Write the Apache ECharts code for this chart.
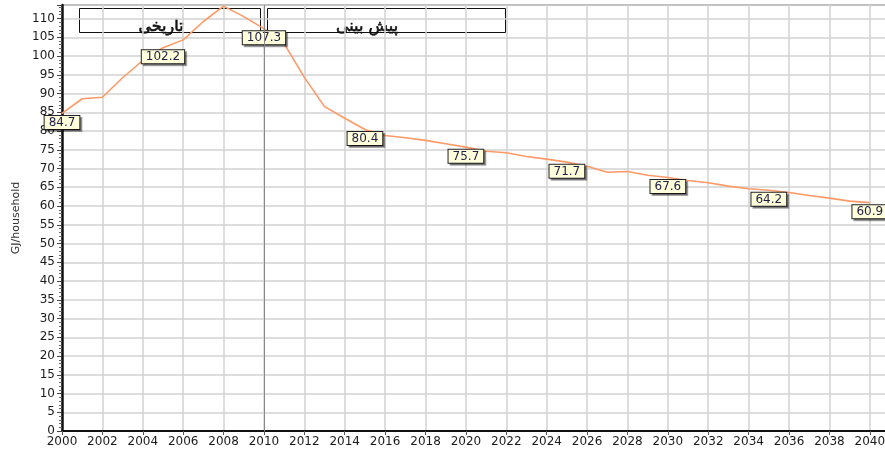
<!DOCTYPE html>
<html>
<head>
<meta charset="utf-8">
<script src="https://cdn.jsdelivr.net/npm/echarts@6/dist/echarts.min.js"></script>
<style>
  html, body { margin: 0; padding: 0; background: #fff; }
  #chart { width: 885px; height: 454px; }
</style>
</head>
<body>
<div id="chart"></div>
<script>
const years = [2000, 2001, 2002, 2003, 2004, 2005, 2006, 2007, 2008, 2009,
  2010, 2011, 2012, 2013, 2014, 2015, 2016, 2017, 2018, 2019,
  2020, 2021, 2022, 2023, 2024, 2025, 2026, 2027, 2028, 2029,
  2030, 2031, 2032, 2033, 2034, 2035, 2036, 2037, 2038, 2039, 2040];

const energyPerHousehold = [84.7, 88.6, 89.0, 94.2, 98.8, 102.2, 104.3, 109.2, 113.3, 110.5,
  107.3, 103.3, 94.3, 86.5, 83.4, 80.4, 78.8, 78.2, 77.5, 76.6,
  75.7, 74.6, 74.2, 73.2, 72.5, 71.7, 70.6, 69.0, 69.2, 68.2,
  67.6, 66.8, 66.2, 65.3, 64.6, 64.2, 63.6, 62.8, 62.1, 61.3, 60.9];

// years that carry a value label
const labelledYears = [2000, 2005, 2010, 2015, 2020, 2025, 2030, 2035, 2040];

const splitYear = 2010;
const periodTitles = ['تاریخی', 'پیش بینی'];

const FONT = 'DejaVu Sans';

const seriesData = years.map((y, i) => {
  const item = { value: [y, energyPerHousehold[i]] };
  if (labelledYears.includes(y)) {
    item.label = { show: true };
  }
  return item;
});

const chart = echarts.init(document.getElementById('chart'), null, { renderer: 'canvas' });

const titleText = (x, text) => ({
  type: 'text',
  x: x, y: 27,
  style: {
    text: text, fontFamily: FONT, fontSize: 16, fontWeight: 'normal',
    fill: '#111', stroke: '#111', lineWidth: 0.6,
    align: 'center', verticalAlign: 'middle'
  }
});

const titleBox = (x, w) => ({
  type: 'rect',
  shape: { x: x + 0.5, y: 8.5, width: w, height: 24 },
  style: { fill: '#fff', stroke: '#111', lineWidth: 1 }
});

chart.setOption({
  animation: false,
  grid: {
    left: 62,
    right: -5,
    top: 5,
    bottom: 23,
    outerBoundsMode: 'none',
    show: true,
    borderColor: '#222',
    borderWidth: 1,
    backgroundColor: '#fff'
  },
  xAxis: {
    type: 'value',
    min: 2000,
    max: 2041,
    interval: 2,
    axisLine: { show: true, onZero: false, lineStyle: { color: '#111', width: 2 } },
    axisTick: { show: true, length: 4, lineStyle: { color: '#555' } },
    axisLabel: {
      showMaxLabel: false,
      margin: 5,
      fontFamily: FONT,
      fontSize: 12,
      color: '#1a1a1a',
      formatter: v => String(v)
    },
    splitLine: { show: true, lineStyle: { color: '#d2d2d2', width: 1.5 } }
  },
  yAxis: {
    type: 'value',
    min: 0,
    max: 113.6,
    interval: 5,
    name: 'GJ/household',
    nameLocation: 'middle',
    nameGap: 36,
    nameTextStyle: { fontFamily: FONT, fontSize: 11, color: '#333' },
    axisLine: { show: true, lineStyle: { color: '#111', width: 2.5 } },
    axisTick: { show: true, length: 5, lineStyle: { color: '#444' } },
    minorTick: { show: true, splitNumber: 5, length: 3, lineStyle: { color: '#666' } },
    axisLabel: {
      showMaxLabel: false,
      margin: 7,
      fontFamily: FONT,
      fontSize: 12,
      color: '#1a1a1a'
    },
    splitLine: { show: true, lineStyle: { color: '#d2d2d2', width: 1.5 } }
  },
  series: [{
    type: 'line',
    data: seriesData,
    showSymbol: true,
    symbol: 'circle',
    symbolSize: 1,
    lineStyle: { color: '#ff9966', width: 1.6 },
    itemStyle: { color: '#ff9966' },
    label: {
      show: false,
      position: 'bottom',
      distance: 2,
      formatter: p => p.value[1].toFixed(1),
      fontFamily: FONT,
      fontSize: 12,
      color: '#1e1e46',
      backgroundColor: '#ffffdc',
      borderColor: '#222',
      borderWidth: 1,
      padding: [1, 4, 0, 4],
      shadowColor: 'rgba(0,0,0,0.35)',
      shadowOffsetX: 2,
      shadowOffsetY: 2,
      shadowBlur: 0
    },
    labelLayout: { hideOverlap: false },
    markLine: {
      silent: true,
      symbol: 'none',
      label: { show: false },
      lineStyle: { color: '#888', width: 1, type: 'solid' },
      data: [{ xAxis: splitYear }]
    },
    z: 3
  }],
  graphic: [
    {
      type: 'group',
      z: 100,
      children: [
        titleBox(79, 181),
        titleText(161, periodTitles[0]),
        titleBox(267, 238),
        titleText(367, periodTitles[1])
      ]
    }
  ]
});
</script>
</body>
</html>
